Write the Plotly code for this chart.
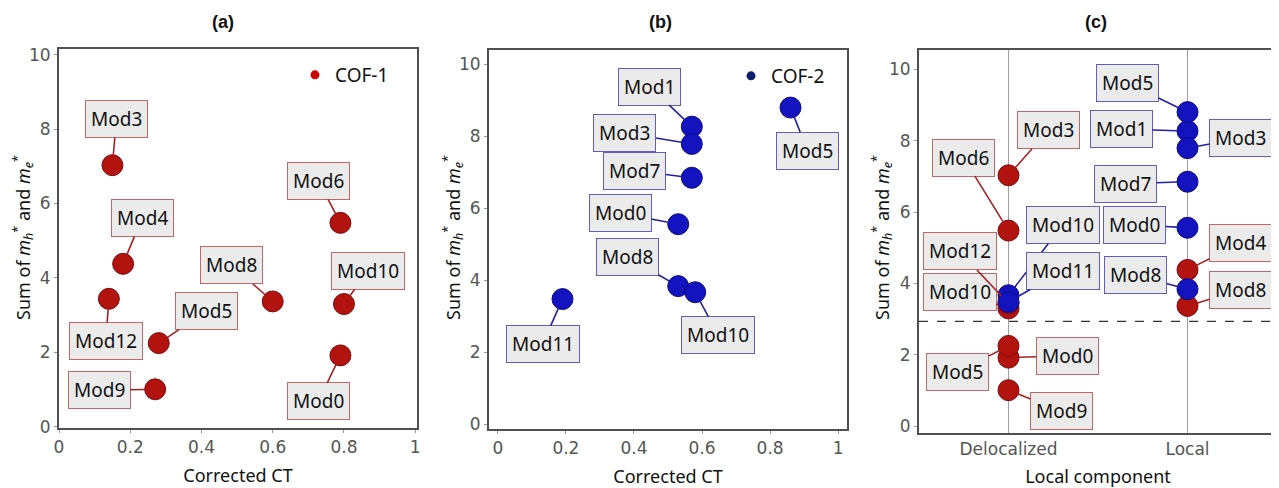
import plotly.graph_objects as go

# ---------------- data ----------------
cof1_names = ["Mod0", "Mod3", "Mod4", "Mod5", "Mod6", "Mod8", "Mod9", "Mod10", "Mod12"]
cof1_ct = [0.79, 0.15, 0.18, 0.28, 0.79, 0.60, 0.27, 0.80, 0.14]
cof1_mass = [1.92, 7.03, 4.38, 2.25, 5.48, 3.37, 1.01, 3.30, 3.44]
cof1_local = ["Delocalized", "Delocalized", "Local", "Delocalized", "Delocalized",
              "Local", "Delocalized", "Delocalized", "Delocalized"]

cof2_names = ["Mod0", "Mod1", "Mod3", "Mod5", "Mod7", "Mod8", "Mod10", "Mod11"]
cof2_ct = [0.53, 0.57, 0.57, 0.86, 0.57, 0.53, 0.58, 0.19]
cof2_mass = [5.56, 8.27, 7.79, 8.80, 6.85, 3.84, 3.67, 3.48]
cof2_local = ["Local", "Local", "Local", "Local", "Local", "Local",
              "Delocalized", "Delocalized"]

local_categories = ["Delocalized", "Local"]
mass_threshold = 2.94

# ---------------- label offsets (pixels, from point to label centre) ----------------
off_a = {"Mod3": (4, -46), "Mod6": (-22, -42), "Mod4": (19, -46), "Mod8": (-41, -36),
         "Mod10": (24, -33), "Mod12": (-3, 42), "Mod5": (48, -32), "Mod0": (-22, 46),
         "Mod9": (-56, 1)}
off_b = {"Mod1": (-42, -40), "Mod3": (-67, -11), "Mod7": (-57, -7), "Mod0": (-58, -11),
         "Mod8": (-51, -29), "Mod10": (23, 43), "Mod11": (-20, 45), "Mod5": (17, 43)}
off_c1 = {"Mod3": (40, -45), "Mod6": (-45, -73), "Mod12": (-49, -52), "Mod10": (-49, -16),
          "Mod5": (-51, 26), "Mod0": (59, -2), "Mod9": (53, 21), "Mod4": (53, -27),
          "Mod8": (53, -16)}
off_c2 = {"Mod5": (-60, -29), "Mod1": (-66, -2), "Mod3": (53, -10), "Mod7": (-62, 2),
          "Mod0": (-53, -3), "Mod8": (-52, -14), "Mod10": (54, -70), "Mod11": (54, -31)}

# ---------------- styles ----------------
# the page body has an 8px margin, so the figure is sized/offset to fill the window
PAGE_OFF = 8
W, H = 1279 - PAGE_OFF, 488 - PAGE_OFF
RED, RED_EDGE, RED_BOX, RED_LINE, RED_LEG = "#b3130f", "#7d0b0b", "#c06868", "#a52222", "#cc0000"
BLUE, BLUE_EDGE, BLUE_BOX, BLUE_LINE, BLUE_LEG = "#1313bf", "#0c0c7e", "#5e5ec4", "#23239e", "#0b1f6b"
LABEL_FONT = dict(family="Noto Sans", size=19, color="#111")
TICK_FONT = dict(family="DejaVu Sans", size=17, color="#555")
TITLE_FONT = dict(family="Noto Sans", size=18, color="#111")
MSIZE = 21

fig = go.Figure()


def px_x(p):
    return (p - PAGE_OFF) / W


def px_y(p):
    return 1 - (p - PAGE_OFF) / H


# panel domains (window-pixel boxes)
dom = {
    "a": dict(x=(59, 417), y=(49, 428)),
    "b": dict(x=(489, 847), y=(50, 429)),
    "c": dict(x=(919, 1277), y=(50, 433)),
}


def marker(color, edge):
    return dict(size=MSIZE, color=color, line=dict(color=edge, width=1))


# panel (a)
fig.add_trace(go.Scatter(x=cof1_ct, y=cof1_mass, mode="markers", marker=marker(RED, RED_EDGE),
                         xaxis="x", yaxis="y", showlegend=False, hoverinfo="text", text=cof1_names))
fig.add_trace(go.Scatter(x=[None], y=[None], mode="markers", name="COF-1",
                         marker=dict(size=9, color=RED_LEG), xaxis="x", yaxis="y", legend="legend"))
# panel (b)
fig.add_trace(go.Scatter(x=cof2_ct, y=cof2_mass, mode="markers", marker=marker(BLUE, BLUE_EDGE),
                         xaxis="x2", yaxis="y2", showlegend=False, hoverinfo="text", text=cof2_names))
fig.add_trace(go.Scatter(x=[None], y=[None], mode="markers", name="COF-2",
                         marker=dict(size=9, color=BLUE_LEG), xaxis="x2", yaxis="y2", legend="legend2"))
# panel (c)
fig.add_trace(go.Scatter(x=cof1_local, y=cof1_mass, mode="markers", marker=marker(RED, RED_EDGE),
                         xaxis="x3", yaxis="y3", showlegend=False, hoverinfo="text", text=cof1_names))
fig.add_trace(go.Scatter(x=cof2_local, y=cof2_mass, mode="markers", marker=marker(BLUE, BLUE_EDGE),
                         xaxis="x3", yaxis="y3", showlegend=False, hoverinfo="text", text=cof2_names))

annotations = []


def add_labels(names, xs, ys, offs, xref, yref, box, line):
    for n, x, y in zip(names, xs, ys):
        ax, ay = offs[n]
        annotations.append(dict(
            x=x, y=y, xref=xref, yref=yref, text=n, showarrow=True, arrowhead=0,
            arrowwidth=1.6, arrowcolor=line, ax=ax, ay=ay, standoff=MSIZE / 2,
            bgcolor="#ebebeb", bordercolor=box, borderwidth=1, borderpad=5,
            font=LABEL_FONT))


add_labels(cof1_names, cof1_ct, cof1_mass, off_a, "x", "y", RED_BOX, RED_LINE)
add_labels(cof2_names, cof2_ct, cof2_mass, off_b, "x2", "y2", BLUE_BOX, BLUE_LINE)
add_labels(cof1_names, cof1_local, cof1_mass, off_c1, "x3", "y3", RED_BOX, RED_LINE)
add_labels(cof2_names, cof2_local, cof2_mass, off_c2, "x3", "y3", BLUE_BOX, BLUE_LINE)

# panel titles and y titles
ytitle = "Sum of <i>m</i><sub><i>h</i></sub><sup>*</sup> and <i>m</i><sub><i>e</i></sub><sup>*</sup>"
for lab, tx, yx in (("(a)", 223, 23), ("(b)", 660, 453), ("(c)", 1096, 882)):
    annotations.append(dict(x=px_x(tx), y=px_y(22), xref="paper", yref="paper", showarrow=False,
                            text=f"<b>{lab}</b>", font=dict(family="Liberation Sans", size=18, color="#111"),
                            xanchor="center", yanchor="middle"))
    annotations.append(dict(x=px_x(yx), y=px_y(238), xref="paper", yref="paper", showarrow=False,
                            text=ytitle, textangle=-90, font=TITLE_FONT,
                            xanchor="center", yanchor="middle"))


def axis_common():
    return dict(showline=True, mirror=True, linecolor="#505050", linewidth=2, ticks="outside",
                ticklen=3, tickcolor="#999", tickfont=TICK_FONT, zeroline=False, showgrid=False,
                automargin=False)


layout = dict(
    width=W, height=H, margin=dict(l=0, r=0, t=0, b=0, autoexpand=False),
    paper_bgcolor="white", plot_bgcolor="white",
    annotations=annotations,
    legend=dict(x=px_x(295), y=px_y(56), xanchor="left", yanchor="top",
                bgcolor="rgba(0,0,0,0)", font=dict(family="Noto Sans", size=19, color="#111")),
    legend2=dict(x=px_x(731), y=px_y(57), xanchor="left", yanchor="top",
                 bgcolor="rgba(0,0,0,0)", font=dict(family="Noto Sans", size=19, color="#111")),
    shapes=[dict(type="line", xref="x3 domain", x0=0, x1=1, yref="y3", y0=mass_threshold,
                 y1=mass_threshold, line=dict(color="#333", width=1.3, dash="dash"))],
)

for i, (k, xr, yr) in enumerate((("a", [0, 1.005], [-0.03, 10.15]),
                                  ("b", [-0.026, 1.026], [-0.13, 10.4]),
                                  ("c", [-0.5, 1.5], [-0.19, 10.54])), start=1):
    sx = "" if i == 1 else str(i)
    d = dom[k]
    xa = axis_common()
    xa.update(domain=[px_x(d["x"][0]), px_x(d["x"][1])], anchor="y" + sx, range=xr)
    ya = axis_common()
    ya.update(domain=[px_y(d["y"][1]), px_y(d["y"][0])], anchor="x" + sx, range=yr, dtick=2)
    if k == "c":
        xa.update(type="category", categoryorder="array", categoryarray=local_categories,
                  showgrid=True, gridcolor="#a0a0a0", gridwidth=1, ticks="",
                  title=dict(text="Local component", font=TITLE_FONT, standoff=14))
    else:
        xa.update(dtick=0.2, title=dict(text="Corrected CT", font=TITLE_FONT, standoff=13))
    layout["xaxis" + sx] = xa
    layout["yaxis" + sx] = ya

fig.update_layout(**layout)
fig.write_html("out.html")
